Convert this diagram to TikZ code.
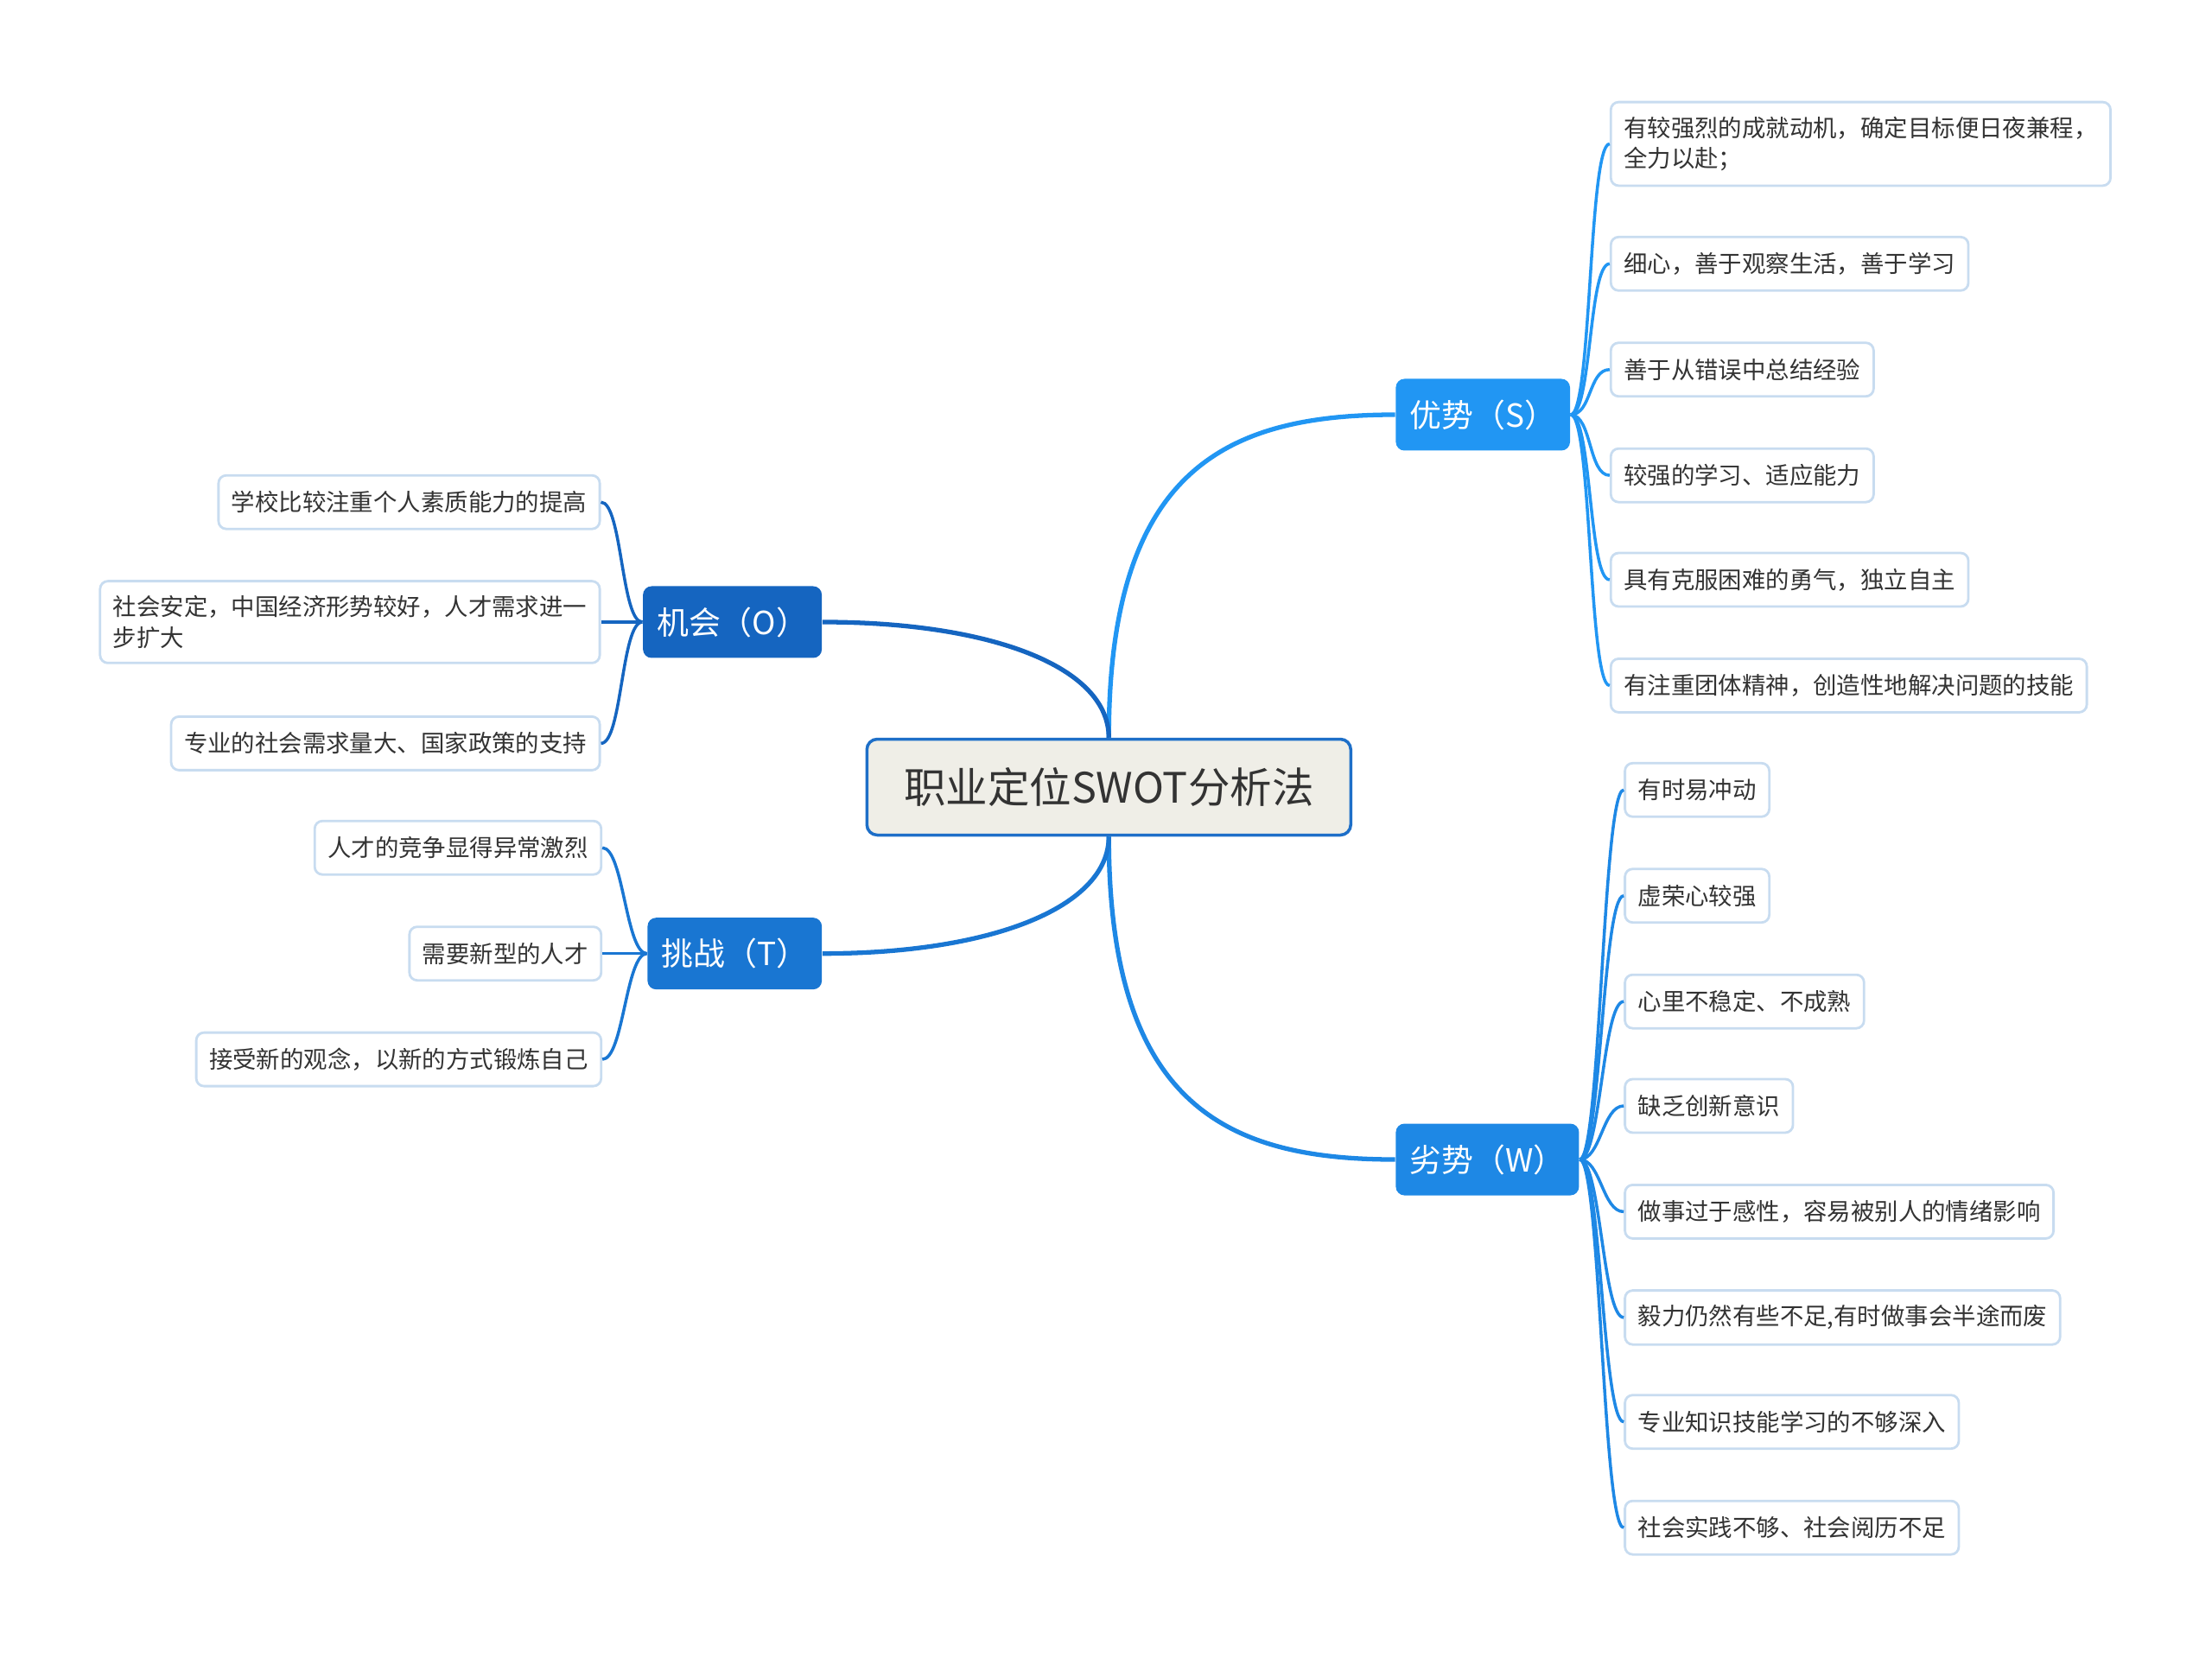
\documentclass[tikz,border=0pt]{standalone}
\usepackage{fontspec}
\setmainfont{Noto Sans CJK SC}
\usepackage{tikz}

\definecolor{sblue}{HTML}{2196F3}
\definecolor{wblue}{HTML}{1E88E5}
\definecolor{tblue}{HTML}{1976D2}
\definecolor{oblue}{HTML}{1565C0}
\definecolor{rootfill}{HTML}{EFEEE7}
\definecolor{rootline}{HTML}{1E6FC8}
\definecolor{leafline}{HTML}{C8DCF0}
\definecolor{inkgray}{HTML}{333333}

\begin{document}
\begin{tikzpicture}[x=0.016327cm, y=-0.016327cm,
            ROOT/.style={rectangle, rounded corners=0.12cm, draw=rootline, line width=1pt, fill=rootfill, text=inkgray, minimum width=5.6cm, minimum height=1.11cm, font=\fontsize{13.8}{16}\selectfont},
            MAIN/.style={rectangle, rounded corners=0.1cm, text=white, inner xsep=0.16cm, minimum height=0.83cm, font=\fontsize{10.5}{12}\selectfont},
            LEAF/.style={rectangle, rounded corners=0.09cm, draw=leafline, line width=0.8pt, fill=white, text=inkgray, inner xsep=0.15cm, inner ysep=0.17cm, minimum height=0.62cm, align=left, font=\fontsize{7.8}{10}\selectfont},
            LINK/.style={line width=1pt, to path={.. controls +(#1,0) and +(-#1,0) .. (\tikztotarget)}},
        ]
        \useasboundingbox (0,0) rectangle (1568,1175);

        \node[ROOT] (SWOT) at (786,558) {职业定位SWOT分析法};

        \node[MAIN, fill=sblue, anchor=west] (Strength)    at (989,294) {优势（S）};
        \node[MAIN, fill=wblue, anchor=west] (Weakness)    at (989,822) {劣势（W）};
        \node[MAIN, fill=oblue, anchor=east] (Opportunity) at (583,441) {机会（O）};
        \node[MAIN, fill=tblue, anchor=east] (Threat)      at (583,676) {挑战（T）};

        \draw[line width=1.5pt, sblue] (SWOT.north) .. controls +(0,-190) and +(-120,0) .. (Strength.west);
        \draw[line width=1.5pt, wblue] (SWOT.south) .. controls +(0,190) and +(-120,0) .. (Weakness.west);
        \draw[line width=1.5pt, oblue] (SWOT.north) .. controls +(0,-50) and +(120,0) .. (Opportunity.east);
        \draw[line width=1.5pt, tblue] (SWOT.south) .. controls +(0,50) and +(120,0) .. (Threat.east);

        % Strengths
        \node[LEAF, anchor=west] (S_1) at (1141,102) {有较强烈的成就动机，确定目标便日夜兼程，\\全力以赴；};
        \node[LEAF, anchor=west] (S_2) at (1141,187) {细心，善于观察生活，善于学习};
        \node[LEAF, anchor=west] (S_3) at (1141,262) {善于从错误中总结经验};
        \node[LEAF, anchor=west] (S_4) at (1141,337) {较强的学习、适应能力};
        \node[LEAF, anchor=west] (S_5) at (1141,411) {具有克服困难的勇气，独立自主};
        \node[LEAF, anchor=west] (S_6) at (1141,486) {有注重团体精神，创造性地解决问题的技能};

        \draw[LINK=15, sblue] (Strength.east) to (S_1.west);
        \draw[LINK=15, sblue] (Strength.east) to (S_2.west);
        \draw[LINK=15, sblue] (Strength.east) to (S_3.west);
        \draw[LINK=15, sblue] (Strength.east) to (S_4.west);
        \draw[LINK=15, sblue] (Strength.east) to (S_5.west);
        \draw[LINK=15, sblue] (Strength.east) to (S_6.west);

        % Weaknesses
        \node[LEAF, anchor=west] (W_1) at (1151,560) {有时易冲动};
        \node[LEAF, anchor=west] (W_2) at (1151,635) {虚荣心较强};
        \node[LEAF, anchor=west] (W_3) at (1151,710) {心里不稳定、不成熟};
        \node[LEAF, anchor=west] (W_4) at (1151,784) {缺乏创新意识};
        \node[LEAF, anchor=west] (W_5) at (1151,859) {做事过于感性，容易被别人的情绪影响};
        \node[LEAF, anchor=west] (W_6) at (1151,934) {毅力仍然有些不足,有时做事会半途而废};
        \node[LEAF, anchor=west] (W_7) at (1151,1008) {专业知识技能学习的不够深入};
        \node[LEAF, anchor=west] (W_8) at (1151,1083) {社会实践不够、社会阅历不足};

        \draw[LINK=15, wblue] (Weakness.east) to (W_1.west);
        \draw[LINK=15, wblue] (Weakness.east) to (W_2.west);
        \draw[LINK=15, wblue] (Weakness.east) to (W_3.west);
        \draw[LINK=15, wblue] (Weakness.east) to (W_4.west);
        \draw[LINK=15, wblue] (Weakness.east) to (W_5.west);
        \draw[LINK=15, wblue] (Weakness.east) to (W_6.west);
        \draw[LINK=15, wblue] (Weakness.east) to (W_7.west);
        \draw[LINK=15, wblue] (Weakness.east) to (W_8.west);

        % Opportunities
        \node[LEAF, anchor=east] (O_1) at (426,356) {学校比较注重个人素质能力的提高};
        \node[LEAF, anchor=east] (O_2) at (426,441) {社会安定，中国经济形势较好，人才需求进一\\步扩大};
        \node[LEAF, anchor=east] (O_3) at (426,527) {专业的社会需求量大、国家政策的支持};

        \draw[LINK=-15, oblue] (Opportunity.west) to (O_1.east);
        \draw[LINK=-15, oblue] (Opportunity.west) to (O_2.east);
        \draw[LINK=-15, oblue] (Opportunity.west) to (O_3.east);

        % Threats
        \node[LEAF, anchor=east] (T_1) at (427,601) {人才的竞争显得异常激烈};
        \node[LEAF, anchor=east] (T_2) at (427,676) {需要新型的人才};
        \node[LEAF, anchor=east] (T_3) at (427,751) {接受新的观念，以新的方式锻炼自己};

        \draw[LINK=-15, tblue] (Threat.west) to (T_1.east);
        \draw[LINK=-15, tblue] (Threat.west) to (T_2.east);
        \draw[LINK=-15, tblue] (Threat.west) to (T_3.east);

    \end{tikzpicture}
\end{document}
